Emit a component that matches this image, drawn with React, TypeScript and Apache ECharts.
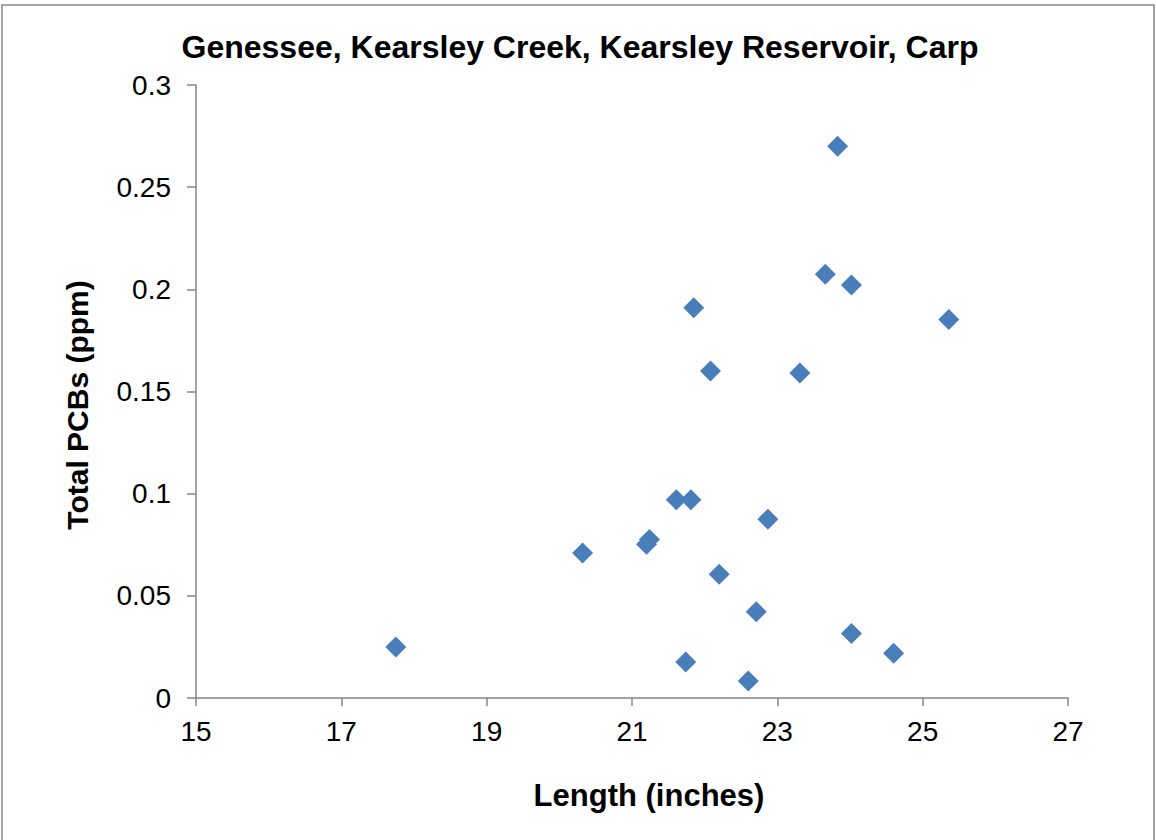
import React, { useEffect, useRef } from "react";
import * as echarts from "echarts";

const titleText = "Genessee, Kearsley Creek, Kearsley Reservoir, Carp";
const xName = "Length (inches)";
const yName = "Total PCBs (ppm)";

const lengths = [17.75, 20.32, 21.20, 21.24, 21.61, 21.81, 21.74, 21.85, 22.08, 22.20, 22.60, 22.71, 22.87, 23.31, 23.66, 23.83, 24.02, 24.02, 24.60, 25.36];
const pcbs = [0.025, 0.071, 0.0753, 0.0776, 0.097, 0.097, 0.0176, 0.191, 0.160, 0.0606, 0.0083, 0.0422, 0.0875, 0.159, 0.2074, 0.270, 0.2021, 0.0316, 0.0219, 0.1852];

const xMin = 15, xMax = 27, xStep = 2;
const yMin = 0, yMax = 0.3, yStep = 0.05;

export default function App() {
  const ref = useRef<HTMLDivElement>(null);
  useEffect(() => {
    document.body.style.margin = "0";
    const chart = echarts.init(ref.current!, null, { renderer: "svg" });
    const font = "Arial, 'Liberation Sans', sans-serif";
    const axisColor = "#868686";
    chart.setOption({
      animation: false,
      backgroundColor: "#ffffff",
      grid: { left: 196, right: 88, top: 85, bottom: 142, containLabel: false },
      xAxis: {
        type: "value",
        min: xMin,
        max: xMax,
        interval: xStep,
        axisLine: { show: true, lineStyle: { color: axisColor, width: 1.5 } },
        axisTick: { show: true, length: 8, lineStyle: { color: axisColor, width: 1.5 } },
        splitLine: { show: false },
        axisLabel: { fontFamily: font, fontSize: 28, color: "#000", margin: 19 },
      },
      yAxis: {
        type: "value",
        min: yMin,
        max: yMax,
        interval: yStep,
        axisLine: { show: true, lineStyle: { color: axisColor, width: 1.5 } },
        axisTick: { show: true, length: 9, lineStyle: { color: axisColor, width: 1.5 } },
        splitLine: { show: false },
        axisLabel: { fontFamily: font, fontSize: 28, color: "#000", margin: 25 },
      },
      graphic: [
        {
          type: "rect",
          shape: { x: 2, y: 5, width: 1152, height: 860 },
          style: { fill: "none", stroke: "#888888", lineWidth: 1.5 },
          silent: true,
          z: -10,
        },
        {
          type: "text",
          x: 580,
          y: 47,
          style: {
            text: titleText,
            fontFamily: font,
            fontWeight: "bold",
            fontSize: 32,
            fill: "#000",
            textAlign: "center",
            textVerticalAlign: "middle",
          },
        },
        {
          type: "text",
          x: 649,
          y: 795,
          style: {
            text: xName,
            fontFamily: font,
            fontWeight: "bold",
            fontSize: 31,
            fill: "#000",
            textAlign: "center",
            textVerticalAlign: "middle",
          },
        },
        {
          type: "text",
          x: 77,
          y: 405,
          rotation: Math.PI / 2,
          style: {
            text: yName,
            fontFamily: font,
            fontWeight: "bold",
            fontSize: 30,
            fill: "#000",
            textAlign: "center",
            textVerticalAlign: "middle",
          },
        },
      ],
      series: [
        {
          type: "scatter",
          symbol: "diamond",
          symbolSize: 21,
          itemStyle: { color: "#4A7EBB", opacity: 1 },
          data: lengths.map((x, i) => [x, pcbs[i]]),
        },
      ],
    });
    return () => chart.dispose();
  }, []);
  return <div ref={ref} style={{ width: 1156, height: 840 }} />;
}
